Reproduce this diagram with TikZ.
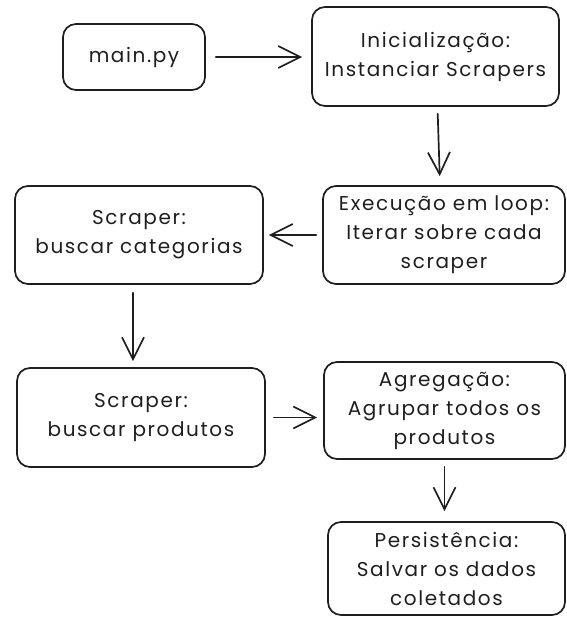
\documentclass[tikz,border=0pt]{standalone}
\usepackage{fontspec}
\setmainfont{Poppins}[LetterSpace=8]
\usetikzlibrary{arrows.meta,calc}
\definecolor{ink}{HTML}{1E1E1E}
\begin{document}
\begin{tikzpicture}[x=1pt,y=-1pt,
  box/.style={draw=ink, line width=1.7pt, rounded corners=13pt, align=center, text=ink,
    font=\fontsize{20}{29}\selectfont, inner sep=0pt},
  arr/.style={draw=ink, line width=1.7pt, line cap=round,
    -{Straight Barb[length=22pt,width=22pt]}}]
\useasboundingbox (0,0) rectangle (566,617);
\node[box, minimum width=142pt, minimum height=66pt] (main) at (134,57) {main.py};
\node[box, minimum width=247pt, minimum height=99pt] (init) at (435.5,56.5) {Inicialização:\\Instanciar Scrapers};
\node[box, minimum width=242pt, minimum height=98pt] (exec) at (444,235) {Execução em loop:\\Iterar sobre cada\\scraper};
\node[box, minimum width=248pt, minimum height=98pt] (cat) at (139,235) {Scraper:\\buscar categorias};
\node[box, minimum width=248pt, minimum height=99pt] (prod) at (141,417.5) {Scraper:\\buscar produtos};
\node[box, minimum width=241pt, minimum height=97pt] (agreg) at (444.5,410.5) {Agregação:\\Agrupar todos os\\produtos};
\node[box, minimum width=237pt, minimum height=93pt] (pers) at (446.5,568.5) {Persistência:\\Salvar os dados\\coletados};
\draw[arr, shorten <=10pt, shorten >=9pt] (main.east) -- (main.east -| init.west);
\draw[arr, shorten <=7pt, shorten >=9pt] ([xshift=2pt]init.south) -- ([xshift=-4pt]exec.north);
\draw[arr, shorten <=6pt, shorten >=5pt] (exec.west) -- (exec.west -| cat.east);
\draw[arr, shorten <=8pt, shorten >=6pt] ([xshift=-6pt]cat.south) -- ([xshift=-8pt]prod.north);
\draw[arr, shorten <=8pt, shorten >=6pt] (prod.east) -- (prod.east -| agreg.west);
\draw[arr, shorten <=7pt, shorten >=10pt] (agreg.south) -- ([xshift=-2pt]pers.north);
\end{tikzpicture}
\end{document}
